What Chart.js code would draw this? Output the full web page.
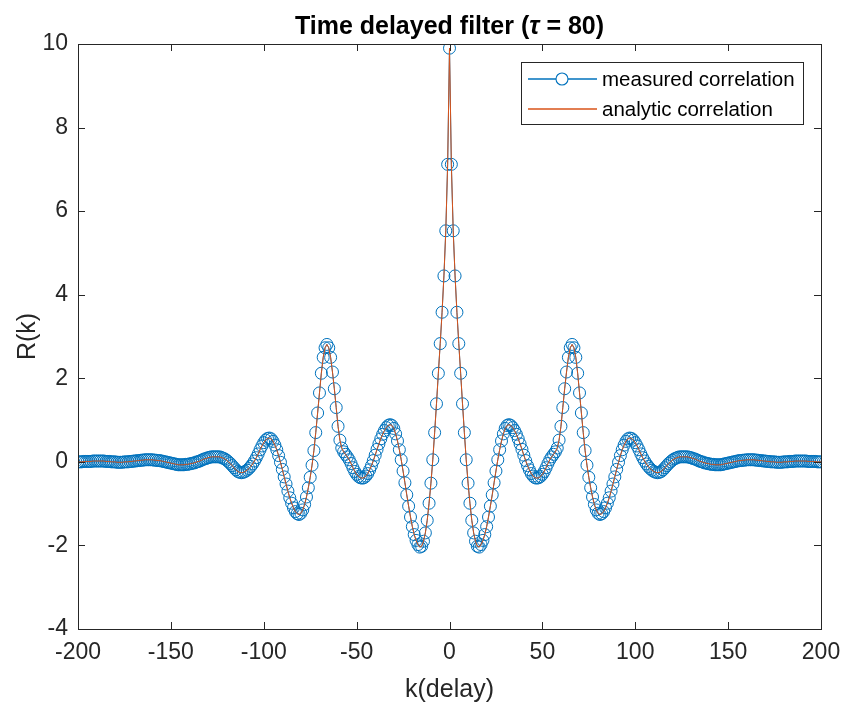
<!DOCTYPE html>
<html>
<head>
<meta charset="utf-8">
<script src="https://cdn.jsdelivr.net/npm/chart.js@4"></script>
<style>
  html, body { margin: 0; padding: 0; background: #ffffff; }
  #wrap { width: 843px; height: 708px; }
</style>
</head>
<body>
<div id="wrap"><canvas id="c" width="843" height="708"></canvas></div>
<script>
// ---- data ----
const chartTitle = "Time delayed filter (τ = 80)";
const xLabel = "k(delay)";
const yLabel = "R(k)";
const seriesNames = ["measured correlation", "analytic correlation"];
const xTicks = [-200, -150, -100, -50, 0, 50, 100, 150, 200];
const yTicks = [-4, -2, 0, 2, 4, 6, 8, 10];

// delays k = -200 ... 200
const delays = [
-200,-199,-198,-197,-196,-195,-194,-193,-192,-191,-190,-189,-188,-187,-186,-185,-184,-183,-182,-181,
-180,-179,-178,-177,-176,-175,-174,-173,-172,-171,-170,-169,-168,-167,-166,-165,-164,-163,-162,-161,
-160,-159,-158,-157,-156,-155,-154,-153,-152,-151,-150,-149,-148,-147,-146,-145,-144,-143,-142,-141,
-140,-139,-138,-137,-136,-135,-134,-133,-132,-131,-130,-129,-128,-127,-126,-125,-124,-123,-122,-121,
-120,-119,-118,-117,-116,-115,-114,-113,-112,-111,-110,-109,-108,-107,-106,-105,-104,-103,-102,-101,
-100,-99,-98,-97,-96,-95,-94,-93,-92,-91,-90,-89,-88,-87,-86,-85,-84,-83,-82,-81,
-80,-79,-78,-77,-76,-75,-74,-73,-72,-71,-70,-69,-68,-67,-66,-65,-64,-63,-62,-61,
-60,-59,-58,-57,-56,-55,-54,-53,-52,-51,-50,-49,-48,-47,-46,-45,-44,-43,-42,-41,
-40,-39,-38,-37,-36,-35,-34,-33,-32,-31,-30,-29,-28,-27,-26,-25,-24,-23,-22,-21,
-20,-19,-18,-17,-16,-15,-14,-13,-12,-11,-10,-9,-8,-7,-6,-5,-4,-3,-2,-1,
0,
1,2,3,4,5,6,7,8,9,10,11,12,13,14,15,16,17,18,19,20,
21,22,23,24,25,26,27,28,29,30,31,32,33,34,35,36,37,38,39,40,
41,42,43,44,45,46,47,48,49,50,51,52,53,54,55,56,57,58,59,60,
61,62,63,64,65,66,67,68,69,70,71,72,73,74,75,76,77,78,79,80,
81,82,83,84,85,86,87,88,89,90,91,92,93,94,95,96,97,98,99,100,
101,102,103,104,105,106,107,108,109,110,111,112,113,114,115,116,117,118,119,120,
121,122,123,124,125,126,127,128,129,130,131,132,133,134,135,136,137,138,139,140,
141,142,143,144,145,146,147,148,149,150,151,152,153,154,155,156,157,158,159,160,
161,162,163,164,165,166,167,168,169,170,171,172,173,174,175,176,177,178,179,180,
181,182,183,184,185,186,187,188,189,190,191,192,193,194,195,196,197,198,199,200
];

// measured correlation R(k), k = -200 ... 200
const measured = [
0.00,0.00,0.00,0.01,0.01,0.01,0.01,0.01,0.02,0.02,0.02,0.02,0.02,0.02,0.02,0.01,0.01,0.01,0.00,0.00,
0.00,-0.01,-0.01,-0.01,-0.01,0.00,0.00,0.00,0.01,0.01,0.02,0.02,0.03,0.03,0.04,0.04,0.05,0.05,0.05,0.05,
0.05,0.04,0.04,0.03,0.03,0.02,0.01,0.00,-0.01,-0.02,-0.03,-0.04,-0.05,-0.06,-0.07,-0.07,-0.07,-0.07,-0.06,-0.06,
-0.05,-0.04,-0.03,-0.02,0.00,0.01,0.03,0.05,0.07,0.08,0.10,0.11,0.12,0.12,0.12,0.12,0.12,0.11,0.09,0.07,
0.04,0.00,-0.04,-0.09,-0.14,-0.19,-0.23,-0.25,-0.26,-0.25,-0.23,-0.20,-0.16,-0.11,-0.05,0.02,0.10,0.19,0.29,0.38,
0.46,0.52,0.56,0.57,0.55,0.49,0.40,0.29,0.15,-0.01,-0.18,-0.36,-0.53,-0.70,-0.86,-0.99,-1.10,-1.19,-1.24,-1.26,
-1.23,-1.15,-1.02,-0.84,-0.62,-0.37,-0.08,0.27,0.70,1.17,1.65,2.12,2.50,2.73,2.81,2.73,2.50,2.15,1.75,1.30,
0.85,0.52,0.33,0.24,0.18,0.12,0.05,-0.04,-0.14,-0.23,-0.30,-0.35,-0.38,-0.39,-0.38,-0.34,-0.28,-0.19,-0.09,0.03,
0.16,0.30,0.43,0.55,0.66,0.75,0.82,0.87,0.89,0.87,0.80,0.67,0.50,0.29,0.05,-0.22,-0.50,-0.79,-1.06,-1.32,
-1.55,-1.74,-1.88,-1.98,-2.04,-2.02,-1.90,-1.70,-1.40,-0.99,-0.51,0.05,0.70,1.39,2.12,2.83,3.58,4.45,5.53,7.12,
9.90,
7.12,5.53,4.45,3.58,2.83,2.12,1.39,0.70,0.05,-0.51,-0.99,-1.40,-1.70,-1.90,-2.02,-2.04,-1.98,-1.88,-1.74,-1.55,
-1.32,-1.06,-0.79,-0.50,-0.22,0.05,0.29,0.50,0.67,0.80,0.87,0.89,0.87,0.82,0.75,0.66,0.55,0.43,0.30,0.16,
0.03,-0.09,-0.19,-0.28,-0.34,-0.38,-0.39,-0.38,-0.35,-0.30,-0.23,-0.14,-0.04,0.05,0.12,0.18,0.24,0.33,0.52,0.85,
1.30,1.75,2.15,2.50,2.73,2.81,2.73,2.50,2.12,1.65,1.17,0.70,0.27,-0.08,-0.37,-0.62,-0.84,-1.02,-1.15,-1.23,
-1.26,-1.24,-1.19,-1.10,-0.99,-0.86,-0.70,-0.53,-0.36,-0.18,-0.01,0.15,0.29,0.40,0.49,0.55,0.57,0.56,0.52,0.46,
0.38,0.29,0.19,0.10,0.02,-0.05,-0.11,-0.16,-0.20,-0.23,-0.25,-0.26,-0.25,-0.23,-0.19,-0.14,-0.09,-0.04,0.00,0.04,
0.07,0.09,0.11,0.12,0.12,0.12,0.12,0.12,0.11,0.10,0.08,0.07,0.05,0.03,0.01,0.00,-0.02,-0.03,-0.04,-0.05,
-0.06,-0.06,-0.07,-0.07,-0.07,-0.07,-0.06,-0.05,-0.04,-0.03,-0.02,-0.01,0.00,0.01,0.02,0.03,0.03,0.04,0.04,0.05,
0.05,0.05,0.05,0.05,0.04,0.04,0.03,0.03,0.02,0.02,0.01,0.01,0.00,0.00,0.00,-0.01,-0.01,-0.01,-0.01,0.00,
0.00,0.00,0.01,0.01,0.01,0.02,0.02,0.02,0.02,0.02,0.02,0.02,0.01,0.01,0.01,0.01,0.01,0.00,0.00,0.00
];

// analytic correlation follows the same curve in the picture
const analytic = measured.slice();

// ---- chart ----
const AX = '#262626';
const BLUE = '#0072BD';
const RED = '#D95319';
const FONT = "'Liberation Sans', Arial, Helvetica, sans-serif";

const frameAndLegend = {
  id: 'frameAndLegend',
  afterDraw(chart) {
    const ctx = chart.ctx;
    const a = chart.chartArea;
    const xs = chart.scales.x, ys = chart.scales.y;
    ctx.save();
    ctx.strokeStyle = AX;
    ctx.lineWidth = 1;
    // inward ticks on all four sides
    const tl = 7;
    ctx.beginPath();
    xTicks.forEach(v => {
      const px = Math.round(xs.getPixelForValue(v)) + 0.5;
      ctx.moveTo(px, a.bottom); ctx.lineTo(px, a.bottom - tl);
      ctx.moveTo(px, a.top); ctx.lineTo(px, a.top + tl);
    });
    yTicks.forEach(v => {
      const py = Math.round(ys.getPixelForValue(v)) + 0.5;
      ctx.moveTo(a.left, py); ctx.lineTo(a.left + tl, py);
      ctx.moveTo(a.right, py); ctx.lineTo(a.right - tl, py);
    });
    ctx.stroke();
    ctx.strokeRect(Math.round(a.left) + 0.5, Math.round(a.top) + 0.5,
                   Math.round(a.right - a.left), Math.round(a.bottom - a.top));

    // title (with italic tau)
    const parts = [
      {t: 'Time delayed filter (', f: 'bold 25px ' + FONT},
      {t: 'τ', f: 'italic bold 25px ' + FONT},
      {t: ' = 80)', f: 'bold 25px ' + FONT}
    ];
    let total = 0;
    parts.forEach(p => { ctx.font = p.f; p.w = ctx.measureText(p.t).width; total += p.w; });
    let tx = (a.left + a.right) / 2 - total / 2;
    ctx.fillStyle = '#000000';
    ctx.textBaseline = 'middle';
    ctx.textAlign = 'left';
    parts.forEach(p => { ctx.font = p.f; ctx.fillText(p.t, tx, 27); tx += p.w; });

    // legend box
    const lx = 521, ly = 62, lw = 282, lh = 62;
    ctx.fillStyle = '#ffffff';
    ctx.fillRect(lx, ly, lw, lh);
    ctx.strokeStyle = AX;
    ctx.lineWidth = 1;
    ctx.strokeRect(lx + 0.5, ly + 0.5, lw, lh);
    const ds = chart.data.datasets;
    const rows = [ly + 17, ly + 47];
    // measured sample: line + circle marker
    ctx.strokeStyle = BLUE; ctx.lineWidth = 1.3;
    ctx.beginPath(); ctx.moveTo(528, rows[0]); ctx.lineTo(597, rows[0]); ctx.stroke();
    ctx.fillStyle = '#ffffff';
    ctx.lineWidth = 1.1;
    ctx.beginPath(); ctx.arc(562, rows[0], 6, 0, Math.PI * 2); ctx.fill(); ctx.stroke();
    // analytic sample: line
    ctx.strokeStyle = RED; ctx.lineWidth = 1.3;
    ctx.beginPath(); ctx.moveTo(528, rows[1]); ctx.lineTo(597, rows[1]); ctx.stroke();
    ctx.font = '20.5px ' + FONT;
    ctx.textBaseline = 'middle';
    ctx.fillStyle = '#000000';
    ctx.fillText(ds[0].label, 602, rows[0] + 1);
    ctx.fillText(ds[1].label, 602, rows[1] + 1);
    ctx.restore();
  }
};

const bg = {
  id: 'bg',
  beforeDraw(chart) {
    const ctx = chart.ctx;
    ctx.save();
    ctx.fillStyle = '#ffffff';
    ctx.fillRect(0, 0, chart.width, chart.height);
    ctx.restore();
  }
};

new Chart(document.getElementById('c'), {
  type: 'line',
  data: {
    datasets: [
      {
        label: seriesNames[0],
        data: delays.map((k, i) => ({x: k, y: measured[i]})),
        borderColor: BLUE,
        backgroundColor: 'rgba(0,0,0,0)',
        borderWidth: 1,
        pointStyle: 'circle',
        pointRadius: 6,
        pointBorderWidth: 1,
        pointBorderColor: BLUE,
        pointBackgroundColor: 'rgba(0,0,0,0)',
        tension: 0,
        order: 2
      },
      {
        label: seriesNames[1],
        data: delays.map((k, i) => ({x: k, y: analytic[i]})),
        borderColor: RED,
        backgroundColor: 'rgba(0,0,0,0)',
        borderWidth: 1,
        pointRadius: 0,
        tension: 0,
        order: 1
      }
    ]
  },
  options: {
    responsive: false,
    animation: false,
    events: [],
    layout: { padding: { top: 44, right: 22, left: 0, bottom: 0 } },
    plugins: {
      legend: { display: false },
      tooltip: { enabled: false },
      title: { display: false, text: chartTitle }
    },
    scales: {
      x: {
        type: 'linear',
        min: -200, max: 200,
        afterFit(s) { s.height = 79; s.paddingLeft = 0; s.paddingRight = 0; },
        afterBuildTicks(s) { s.ticks = xTicks.map(v => ({value: v})); },
        grid: { display: false, drawTicks: false },
        border: { display: false },
        ticks: { color: AX, font: { family: FONT, size: 23 }, padding: 10, maxRotation: 0, autoSkip: false },
        title: { display: true, text: xLabel, color: AX, font: { family: FONT, size: 25 }, padding: { top: 0, bottom: 3 } }
      },
      y: {
        type: 'linear',
        min: -4, max: 10,
        afterFit(s) { s.width = 78; s.paddingTop = 0; s.paddingBottom = 0; },
        afterBuildTicks(s) { s.ticks = yTicks.map(v => ({value: v})); },
        grid: { display: false, drawTicks: false },
        border: { display: false },
        ticks: { color: AX, font: { family: FONT, size: 23 }, padding: 10, autoSkip: false },
        title: { display: true, text: yLabel, color: AX, font: { family: FONT, size: 25 }, padding: { top: 13, bottom: 0 } }
      }
    }
  },
  plugins: [bg, frameAndLegend]
});
</script>
</body>
</html>
